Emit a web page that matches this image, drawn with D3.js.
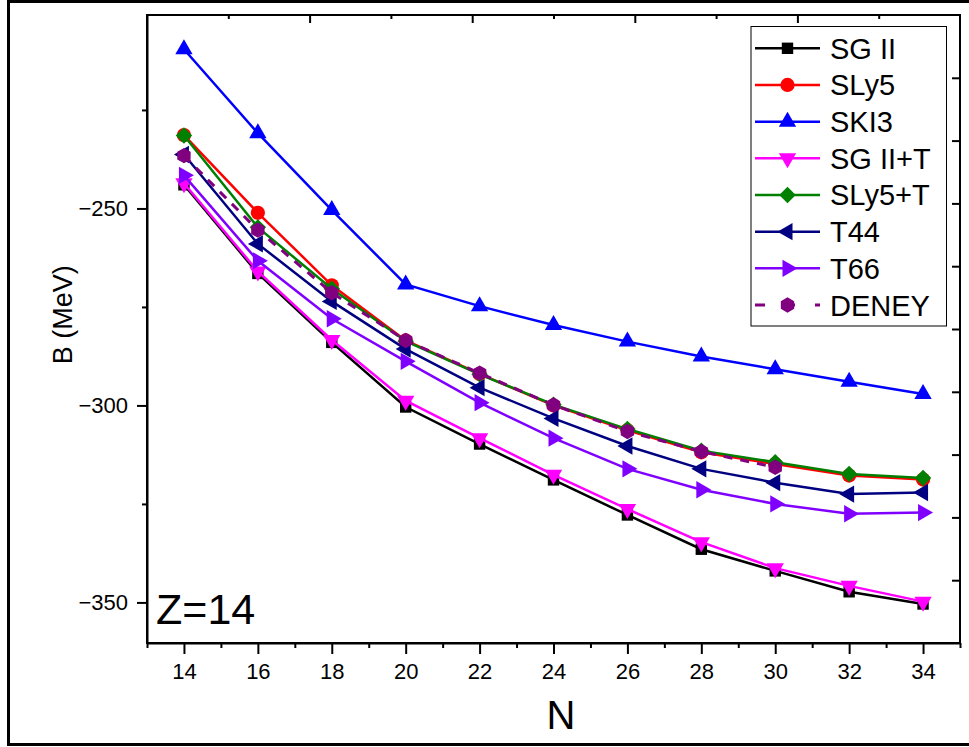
<!DOCTYPE html>
<html>
<head>
<meta charset="utf-8">
<script src="https://cdn.jsdelivr.net/npm/d3@7"></script>
<style>
  body { margin: 0; background: #fff; }
  svg { display: block; font-family: Arial, "Liberation Sans", sans-serif; }
</style>
</head>
<body>
<div id="chart"></div>
<script>
// ---------------------------------------------------------------- DATA ---------------------------------------------------- //
const N = [14, 16, 18, 20, 22, 24, 26, 28, 30, 32, 34];
const sg2   = [-244.0, -266.5, -284.0, -300.4, -309.8, -318.9, -327.8, -336.5, -342.0, -347.3, -350.4];
const sly5  = [-231.4, -251.1, -269.5, -283.5, -292.0, -300.0, -306.3, -311.9, -314.9, -317.8, -318.8];
const ski3  = [-209.6, -230.9, -250.4, -269.3, -274.8, -279.6, -283.8, -287.6, -290.8, -294.0, -297.1];
const sg2T  = [-243.6, -266.0, -283.4, -298.8, -308.3, -317.6, -326.3, -334.7, -341.3, -345.8, -349.8];
const sly5T = [-231.5, -254.8, -270.4, -283.7, -292.1, -299.8, -306.0, -311.5, -314.4, -317.4, -318.4];
const t44   = [-236.3, -259.0, -273.6, -285.7, -295.5, -303.3, -310.3, -316.1, -319.6, -322.5, -322.1];
const t66   = [-241.6, -263.3, -278.0, -288.8, -299.3, -308.3, -316.1, -321.4, -325.0, -327.5, -327.2];
const deney = [-236.6, -255.5, -271.4, -283.5, -291.8, -299.9, -306.6, -311.7, -315.7];

const seriesNames = ["SG II", "SLy5", "SKI3", "SG II+T", "SLy5+T", "T44", "T66", "DENEY"];
const xTicks = [14, 16, 18, 20, 22, 24, 26, 28, 30, 32, 34];
const yTicks = [-350, -300, -250];

// ---------------------------------------------------------------- SETUP --------------------------------------------------- //
const W = 969, H = 747;
const margin = {top: 15, right: 9, bottom: 104, left: 147};
const width = W - margin.left - margin.right,
      height = H - margin.top - margin.bottom;

const svg = d3.select("#chart")
  .append("svg")
  .attr("width", W)
  .attr("height", H);

// outer frame of the figure
svg.append("rect")
  .attr("x", 8.5).attr("y", 1.5)
  .attr("width", 990).attr("height", 743)
  .attr("fill", "none")
  .attr("stroke", "black")
  .attr("stroke-width", 3);

const g = svg.append("g")
  .attr("transform", "translate(" + margin.left + "," + margin.top + ")");

const x = d3.scaleLinear().domain([13, 35]).range([0, width]);
const y = d3.scaleLinear().domain([-360.3, -200.9]).range([height, 0]);

// hexagon, pointy top
const hexagon = {
  draw: function (context, size) {
    const r = Math.sqrt(size / (1.5 * Math.sqrt(3)));
    for (let i = 0; i < 6; i++) {
      const a = Math.PI / 3 * i - Math.PI / 2;
      if (i === 0) context.moveTo(r * Math.cos(a), r * Math.sin(a));
      else context.lineTo(r * Math.cos(a), r * Math.sin(a));
    }
    context.closePath();
  }
};

const series = [
  {name: seriesNames[0], values: sg2,   color: "#000000", symbol: d3.symbolSquare,   size: 130, rot: 0},
  {name: seriesNames[1], values: sly5,  color: "#ff0000", symbol: d3.symbolCircle,   size: 160, rot: 0},
  {name: seriesNames[2], values: ski3,  color: "#0000ff", symbol: d3.symbolTriangle, size: 130, rot: 0},
  {name: seriesNames[3], values: sg2T,  color: "#ff00ff", symbol: d3.symbolTriangle, size: 130, rot: 180},
  {name: seriesNames[4], values: sly5T, color: "#008000", symbol: d3.symbolSquare,   size: 135, rot: 45},
  {name: seriesNames[5], values: t44,   color: "#000080", symbol: d3.symbolTriangle, size: 130, rot: -90},
  {name: seriesNames[6], values: t66,   color: "#8000ff", symbol: d3.symbolTriangle, size: 130, rot: 90},
  {name: seriesNames[7], values: deney, color: "#800080", symbol: hexagon,           size: 155, rot: 0, dash: "9,8"}
];

// ---------------------------------------------------------------- AXES ---------------------------------------------------- //
const axisW = 2;
const minus = d3.format("");

// bottom: majors with labels, minors at odd N
g.append("g")
  .attr("transform", "translate(0," + height + ")")
  .call(d3.axisBottom(x).tickValues(d3.range(13, 36, 1).filter(d => d % 2 === 1)).tickSize(5).tickFormat(""))
  .call(a => a.select(".domain").remove());
const xAxis = g.append("g")
  .attr("transform", "translate(0," + height + ")")
  .call(d3.axisBottom(x).tickValues(xTicks).tickSize(11).tickPadding(9).tickSizeOuter(0));
xAxis.selectAll("text").attr("font-size", 22).attr("fill", "#000");

// left: majors with labels, minors in between
g.append("g")
  .call(d3.axisLeft(y).tickValues([-325, -275, -225]).tickSize(5).tickFormat(""))
  .call(a => a.select(".domain").remove());
const yAxis = g.append("g")
  .call(d3.axisLeft(y).tickValues(yTicks).tickSize(10).tickPadding(9).tickSizeOuter(0)
    .tickFormat(d => "\u2212" + Math.abs(d)));
yAxis.selectAll("text").attr("font-size", 22).attr("fill", "#000");

// top and right axes carry their own unlabelled scale (10 divisions)
const xt = d3.scaleLinear().domain([0, 10]).range([0, width]);
const yr = d3.scaleLinear().domain([0, 10]).range([0, height]);
g.append("g")
  .call(d3.axisBottom(xt).tickValues([2, 4, 6, 8]).tickSize(8).tickFormat(""))
  .call(a => a.select(".domain").remove());
g.append("g")
  .call(d3.axisBottom(xt).tickValues([1, 3, 5, 7, 9]).tickSize(4).tickFormat(""))
  .call(a => a.select(".domain").remove());
g.append("g")
  .attr("transform", "translate(" + width + ",0)")
  .call(d3.axisLeft(yr).tickValues(d3.range(1, 10)).tickSize(8).tickFormat(""))
  .call(a => a.select(".domain").remove());

g.selectAll(".tick line").attr("stroke", "#000").attr("stroke-width", axisW);

// frame
g.append("rect")
  .attr("width", width).attr("height", height)
  .attr("fill", "none")
  .attr("stroke", "#000")
  .attr("stroke-width", axisW);
g.selectAll(".domain").attr("stroke-width", axisW);

// titles
svg.append("text")
  .attr("transform", "translate(72," + (margin.top + y(-277)) + ") rotate(-90)")
  .attr("text-anchor", "middle")
  .attr("font-size", 27)
  .text("B (MeV)");

svg.append("text")
  .attr("x", margin.left + x(24.2))
  .attr("y", 729)
  .attr("text-anchor", "middle")
  .attr("font-size", 40)
  .text("N");

g.append("text")
  .attr("x", 9)
  .attr("y", y(-355.5))
  .attr("font-size", 43)
  .text("Z=14");

// ---------------------------------------------------------------- LINES + SYMBOLS ---------------------------------------- //
const line = d3.line()
  .x((d, i) => x(N[i]))
  .y(d => y(d));

series.forEach(function (s) {
  const sg = g.append("g");
  sg.append("path")
    .datum(s.values)
    .attr("d", line)
    .attr("fill", "none")
    .attr("stroke", s.color)
    .attr("stroke-width", s.dash ? 3 : 2.5)
    .attr("stroke-dasharray", s.dash || null);
  sg.selectAll("path.pt")
    .data(s.values)
    .enter()
    .append("path")
    .attr("class", "pt")
    .attr("d", d3.symbol().type(s.symbol).size(s.size))
    .attr("transform", (d, i) => "translate(" + x(N[i]) + "," + y(d) + ") rotate(" + s.rot + ")")
    .attr("fill", s.color);
});

// ---------------------------------------------------------------- LEGEND -------------------------------------------------- //
const lg = svg.append("g");
lg.append("rect")
  .attr("x", 751).attr("y", 26.5)
  .attr("width", 195.5).attr("height", 299.5)
  .attr("fill", "#fff")
  .attr("stroke", "#000")
  .attr("stroke-width", 1);

const rowY = d3.scaleLinear().domain([0, 7]).range([48.3, 305]);
series.forEach(function (s, i) {
  const yy = rowY(i);
  lg.append("line")
    .attr("x1", 755).attr("x2", 820)
    .attr("y1", yy).attr("y2", yy)
    .attr("stroke", s.color)
    .attr("stroke-width", s.dash ? 3 : 2.5)
    .attr("stroke-dasharray", s.dash ? "10,20,0,0" : null);
  lg.append("path")
    .attr("d", d3.symbol().type(s.symbol).size(s.size))
    .attr("transform", "translate(787.5," + yy + ") rotate(" + s.rot + ")")
    .attr("fill", s.color);
  lg.append("text")
    .attr("x", 830)
    .attr("y", yy + 10.5)
    .attr("font-size", 29)
    .text(s.name);
});
</script>
</body>
</html>
